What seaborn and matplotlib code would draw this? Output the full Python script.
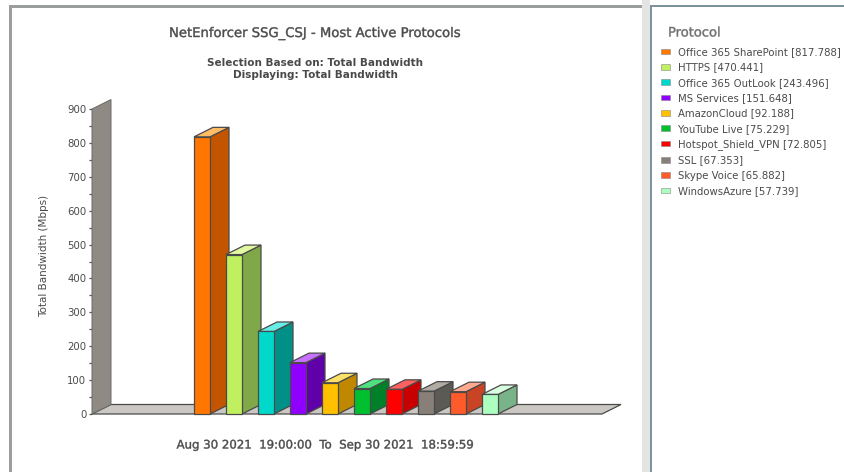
import matplotlib
matplotlib.use("Agg")
import matplotlib.pyplot as plt
import matplotlib.patheffects as pe
import seaborn as sns
import pandas as pd
from matplotlib.patches import Polygon, Rectangle

protocols = ["Office 365 SharePoint", "HTTPS", "Office 365 OutLook", "MS Services", "AmazonCloud",
             "YouTube Live", "Hotspot_Shield_VPN", "SSL", "Skype Voice", "WindowsAzure"]
bandwidth = [817.788, 470.441, 243.496, 151.648, 92.188, 75.229, 72.805, 67.353, 65.882, 57.739]
front_colors = ["#FF7700", "#C0F060", "#00D8CC", "#9000FF", "#FFC000",
                "#00C030", "#FF0000", "#888078", "#FF5A2A", "#ADFFC0"]
side_colors = ["#C45500", "#80A848", "#009088", "#6000A8", "#C08800",
               "#008028", "#C80000", "#5C5A54", "#C84424", "#78B488"]
top_colors = ["#FFBB66", "#E0F8A0", "#66EEE6", "#C870FF", "#FFE066",
              "#50E080", "#FF6060", "#B0ACA4", "#FFAA90", "#D8FFE0"]
y_ticks = [0, 100, 200, 300, 400, 500, 600, 700, 800, 900]

W, H = 845, 472
TEXT = "#4a4a4a"
sns.set_theme(style="white", rc={"font.family": "DejaVu Sans"})
fig = plt.figure(figsize=(W / 100, H / 100), dpi=100, facecolor="white")

def px_axes(l, t, r, b):
    return [l / W, 1 - b / H, (r - l) / W, (b - t) / H]

ax = fig.add_axes(px_axes(92, 109, 602, 414))
ax.patch.set_alpha(0)
df = pd.DataFrame({"protocol": protocols, "bw": bandwidth})
sns.barplot(data=df, x="protocol", y="bw", hue="protocol", palette=front_colors,
            width=0.5, legend=False, ax=ax, saturation=1, dodge=False)
ax.set_xlim(-3.4375, 12.5)
ax.set_ylim(0, 900)

# depth of the pseudo-3D projection, expressed in data units
dx = 19 / 32
dy = 9.5 * 900 / 305
EDGE = "#4a4a4a"

# back wall and floor
x0, x1 = ax.get_xlim()
ax.add_patch(Polygon([(x0, 0), (x0 + dx, dy), (x1 + dx, dy), (x1, 0)], closed=True,
                     fc="#CBC8C3", ec=EDGE, lw=0.9, zorder=1, clip_on=False))
ax.add_patch(Polygon([(x0, 0), (x0 + dx, dy), (x0 + dx, 900 + dy), (x0, 900)], closed=True,
                     fc="#8F8B84", ec="#6a6a6a", lw=0.7, zorder=1.1, clip_on=False))

bars = [c[0] for c in ax.containers]
for i, bar in enumerate(bars):
    x, w, h = bar.get_x(), bar.get_width(), bar.get_height()
    z = 3 + i
    bar.set(edgecolor=EDGE, linewidth=0.9, zorder=z + 0.2, facecolor=front_colors[i])
    bar.set_clip_on(False)
    ax.add_patch(Polygon([(x + w, 0), (x + w + dx, dy), (x + w + dx, h + dy), (x + w, h)], closed=True,
                         fc=side_colors[i], ec=EDGE, lw=0.9, zorder=z, clip_on=False))
    ax.add_patch(Polygon([(x, h), (x + dx, h + dy), (x + w + dx, h + dy), (x + w, h)], closed=True,
                         fc=top_colors[i], ec=EDGE, lw=0.9, zorder=z + 0.1, clip_on=False))

for s in ["top", "right", "left", "bottom"]:
    ax.spines[s].set_visible(False)
ax.set_xticks([])
ax.set_yticks(y_ticks)
ax.set_yticks([t + 50 for t in y_ticks[:-1]], minor=True)
ax.tick_params(axis="y", which="major", left=True, length=2.5, width=0.9, color="#555555",
               labelsize=7.3, labelcolor=TEXT, pad=1.5)
ax.tick_params(axis="y", which="minor", left=True, length=2, width=0.9, color="#555555")
ax.set_xlabel("")
ax.set_ylabel("")

def ftext(px, py, s, semi=False, **kw):
    kw.setdefault("color", TEXT)
    kw.setdefault("ha", "center")
    kw.setdefault("va", "center")
    t = fig.text(px / W, 1 - py / H, s, **kw)
    if semi:
        t.set_path_effects([pe.Stroke(linewidth=0.3, foreground=kw["color"])])
    return t

ftext(44, 256, "Total Bandwidth (Mbps)", rotation=90, fontsize=7.5)
ftext(316, 33.5, "NetEnforcer SSG_CSJ - Most Active Protocols", semi=True, fontsize=9.5)
ftext(315.5, 62.5, "Selection Based on: Total Bandwidth", fontsize=7.45, fontweight="bold")
ftext(315.5, 75, "Displaying: Total Bandwidth", fontsize=7.45, fontweight="bold")
ftext(325, 445, "Aug 30 2021  19:00:00  To  Sep 30 2021  18:59:59", semi=True, fontsize=8.45)
ftext(668, 33, "Protocol", semi=True, fontsize=9.4, ha="left", color="#707070")

# panel borders
def rect(l, t, r, b, c):
    fig.add_artist(Rectangle((l / W, 1 - b / H), (r - l) / W, (b - t) / H,
                             transform=fig.transFigure, fc=c, ec="none"))
rect(9, 5, 642, 8, "#9a9e9e")
rect(9, 5, 12, 472, "#9a9e9e")
rect(642, 0, 650, 472, "#E4E4E4")
rect(650, 5, 845, 7, "#7d929a")
rect(650, 5, 652, 472, "#7d929a")

# legend
handles = [Rectangle((0, 0), 1, 1, fc=c, ec="#888888", lw=0.4) for c in front_colors]
labels = [f"{p} [{v:.3f}]" for p, v in zip(protocols, bandwidth)]
leg = fig.legend(handles, labels, loc="upper left", bbox_to_anchor=(661 / W, 1 - 47 / H),
                 frameon=False, fontsize=7.28, labelcolor=TEXT,
                 handlelength=0.88, handleheight=0.5, handletextpad=0.79, labelspacing=0.53,
                 borderpad=0, borderaxespad=0)

fig.savefig("out.png", dpi=100)
